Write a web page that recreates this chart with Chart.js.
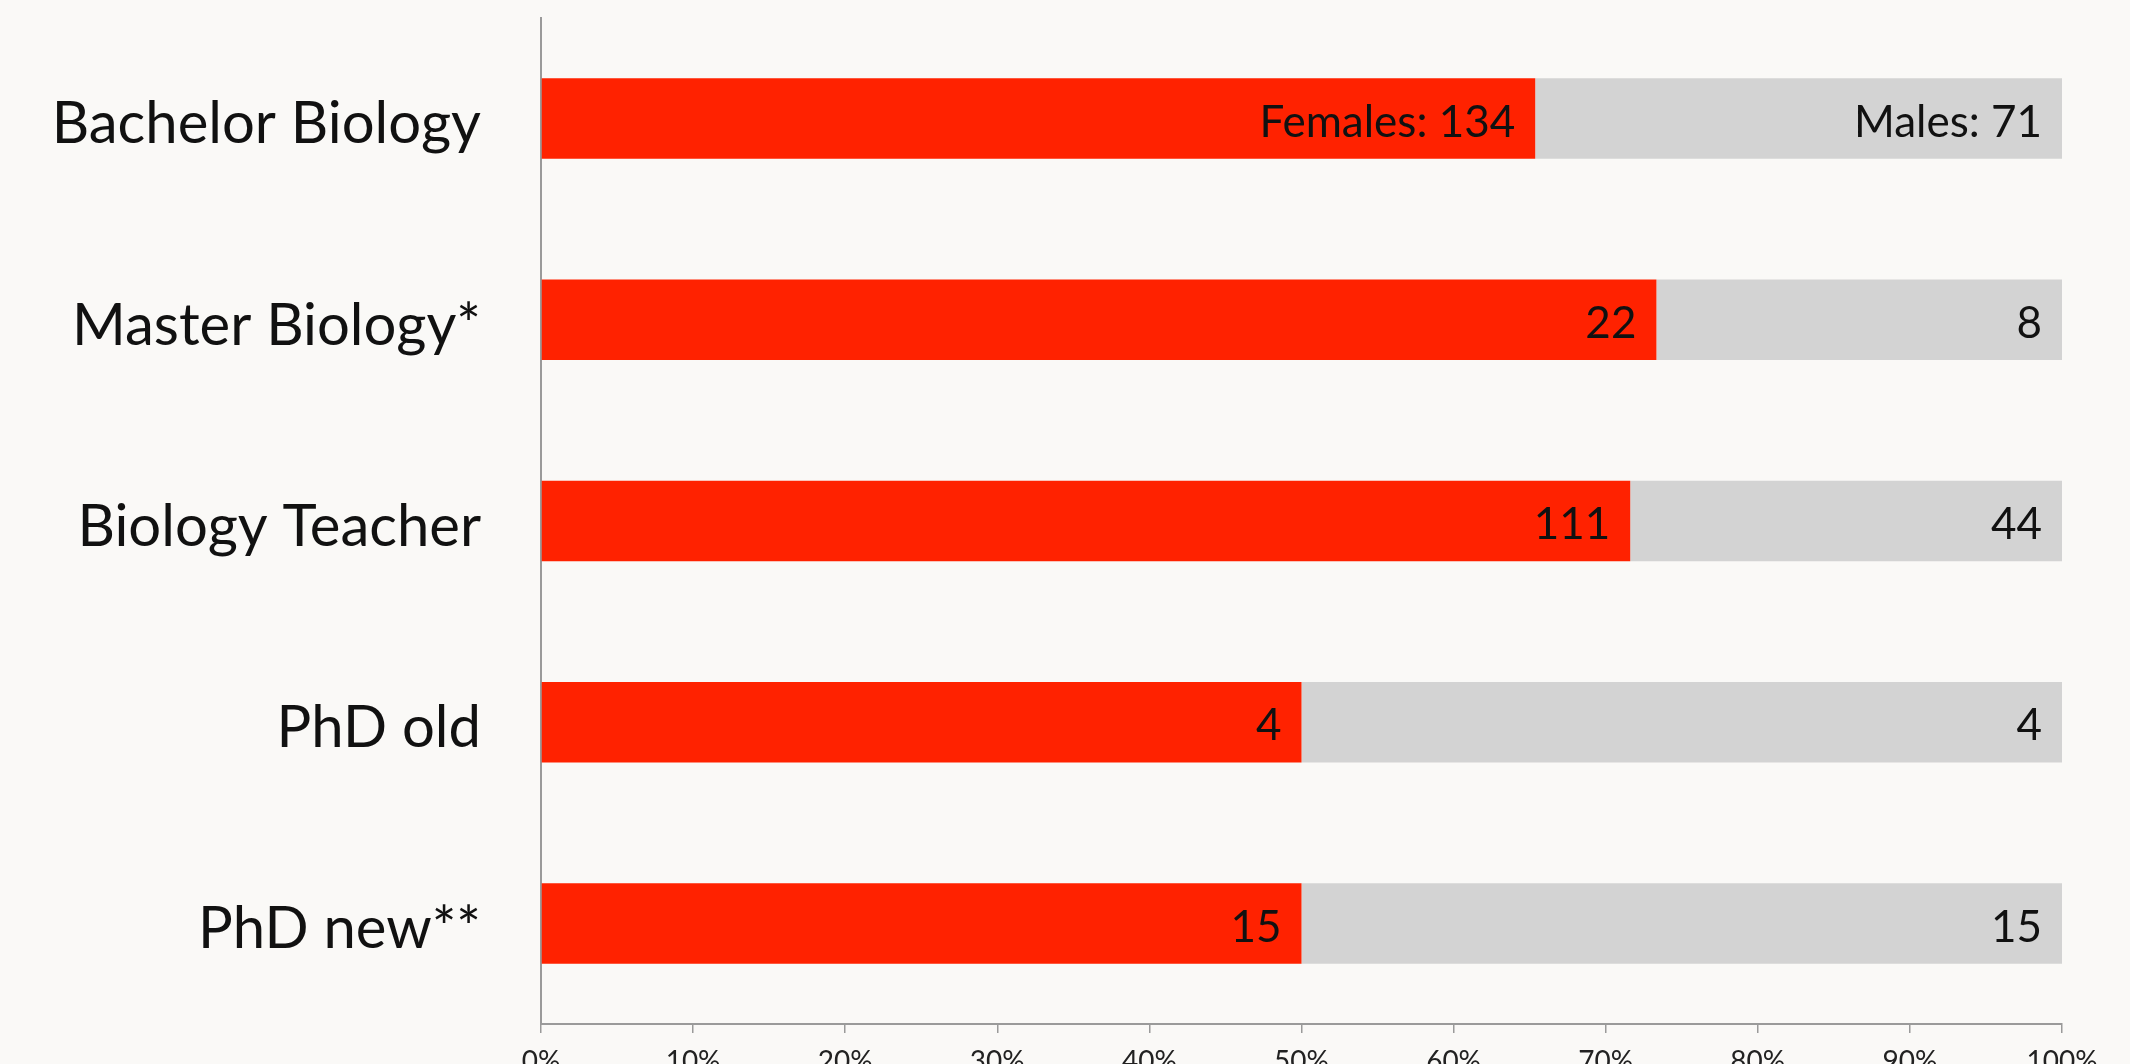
<!DOCTYPE html>
<html>
<head>
<meta charset="utf-8">
<script src="https://cdn.jsdelivr.net/npm/chart.js@4"></script>
<style>
  html, body { margin: 0; padding: 0; background: #faf9f7; overflow: hidden; }
  canvas { display: block; }
</style>
</head>
<body>
<canvas id="genderChart" width="2130" height="1090"></canvas>
<script>
// programmes and head counts
const programs = ['Bachelor Biology', 'Master Biology*', 'Biology Teacher', 'PhD old', 'PhD new**'];
const females = [134, 22, 111, 4, 15];
const males = [71, 8, 44, 4, 15];
const femaleLabels = ['Females: 134', '22', '111', '4', '15'];
const maleLabels = ['Males: 71', '8', '44', '4', '15'];
const tickValues = [0, 10, 20, 30, 40, 50, 60, 70, 80, 90, 100];

// share of each group in percent
const femalePct = females.map((f, i) => f / (f + males[i]) * 100);
const malePct = males.map((m, i) => m / (females[i] + m) * 100);

const barLabels = {
  id: 'barLabels',
  afterDatasetsDraw(chart) {
    const ctx = chart.ctx;
    const texts = [femaleLabels, maleLabels];
    ctx.save();
    ctx.font = '44px Lato';
    ctx.fillStyle = '#111';
    ctx.textAlign = 'right';
    ctx.textBaseline = 'middle';
    chart.data.datasets.forEach((ds, di) => {
      chart.getDatasetMeta(di).data.forEach((bar, i) => {
        ctx.fillText(texts[di][i], bar.x - 20, bar.y + 4);
      });
    });
    ctx.restore();
  }
};

const ctx = document.getElementById('genderChart').getContext('2d');
new Chart(ctx, {
  type: 'bar',
  data: {
    labels: programs,
    datasets: [
      { label: 'Females', data: femalePct, backgroundColor: '#ff2200', categoryPercentage: 1, barPercentage: 0.4 },
      { label: 'Males', data: malePct, backgroundColor: '#d3d3d3', categoryPercentage: 1, barPercentage: 0.4 }
    ]
  },
  options: {
    responsive: false,
    indexAxis: 'y',
    animation: false,
    layout: { padding: { top: 18, right: 68, left: 0, bottom: 0 } },
    plugins: {
      legend: { display: false },
      tooltip: { enabled: false }
    },
    scales: {
      x: {
        stacked: true,
        min: 0,
        max: 100,
        afterBuildTicks: s => { s.ticks = tickValues.map(v => ({ value: v })); },
        afterFit: s => { s.height = 66; s.paddingLeft = 0; s.paddingRight = 0; },
        grid: { display: true, drawOnChartArea: false, drawTicks: true, tickLength: 9, color: '#9a9a9a', lineWidth: 1.5 },
        border: { display: true, color: '#9a9a9a', width: 2 },
        ticks: {
          padding: 12,
          color: '#222',
          font: { family: 'Lato', size: 28 },
          callback: v => v + '%'
        }
      },
      y: {
        stacked: true,
        afterFit: s => { s.width = 541; s.paddingTop = 0; s.paddingBottom = 0; },
        grid: { display: false, drawTicks: false },
        border: { display: true, color: '#9a9a9a', width: 2 },
        ticks: {
          padding: 60,
          labelOffset: 6,
          color: '#111',
          font: { family: 'Lato', size: 58 }
        }
      }
    }
  },
  plugins: [barLabels]
});
</script>
</body>
</html>
